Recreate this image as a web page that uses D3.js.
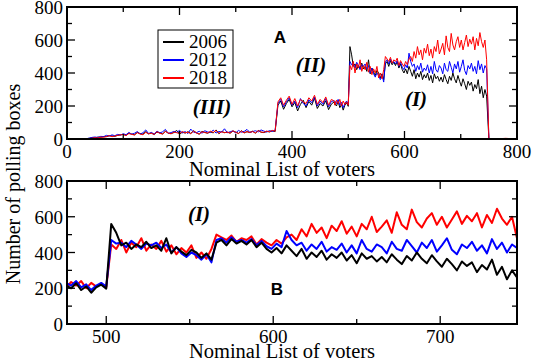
<!DOCTYPE html>
<html>
<head>
<meta charset="utf-8">
<script src="https://cdn.jsdelivr.net/npm/d3@7"></script>
<style>
body { margin: 0; background: #fff; }
</style>
</head>
<body>
<svg id="chart" width="533" height="362" font-family="'Liberation Serif', 'Times New Roman', serif"></svg>
<script>
// series names and colours
var years = ["2006", "2012", "2018"];
var colors = ["#000000", "#0000ff", "#ff0000"];

// region (III): voters 0..370, every 5
var low2006 = [0,1,0,2,1,0,3,2,4,8,
  6,12,10,15,14,20,18,16,22,25,
  28,22,35,30,26,40,33,29,45,31,
  36,27,42,38,30,48,35,33,39,52,
  30,41,36,44,34,50,38,29,46,40,
  35,43,37,55,32,45,39,41,36,48,
  42,34,50,38,44,40,47,35,52,41,
  39,46,43,49,45];
var low2012 = [0,0,1,0,2,1,0,2,6,10,
  12,9,16,14,22,18,25,20,28,24,
  32,26,40,29,35,45,30,38,55,33,
  40,30,48,36,44,58,34,39,46,40,
  52,37,45,33,60,41,38,47,35,50,
  43,39,54,36,46,42,62,38,44,49,
  37,52,41,46,58,40,45,50,43,55,
  48,42,51,46,53];
var low2018 = [0,1,0,0,1,2,0,1,3,5,
  8,6,12,10,15,20,14,18,22,25,
  27,21,33,28,24,38,30,26,40,32,
  35,28,44,34,30,46,36,31,42,38,
  33,45,37,42,32,48,36,30,44,39,
  36,47,40,52,34,44,38,42,35,50,
  40,33,48,37,45,39,46,36,51,42,
  40,48,44,52,47];

// region (II): voters 375..475, every 5
var mid2006 = [205,230,180,215,240,195,222,170,210,235,190,228,205,248,185,215,200,232,178,212,225];
var mid2012 = [215,240,195,225,250,205,230,190,245,215,200,238,220,255,200,230,210,245,195,228,232];
var mid2018 = [225,250,205,235,260,210,245,200,240,225,215,250,230,265,210,240,220,255,205,240,230];

// region (I): voters 476..746, every 3
var high2006 = [215,200,228,190,210,175,205,220,198,
  560,510,440,455,420,445,430,460,425,
  440,410,480,395,430,405,385,415,400,
  370,395,360,455,470,440,475,450,465,
  445,470,430,455,420,400,425,395,440,
  410,380,420,365,400,375,410,360,390,
  370,400,355,385,340,395,365,380,350,
  375,345,390,360,335,380,355,400,365,
  340,385,350,320,365,335,300,350,325,
  345,290,330,305,360,275,320,250,300,
  260];
var high2012 = [230,215,240,205,222,190,215,230,210,
  470,450,455,430,465,445,420,450,440,
  455,425,445,400,430,395,375,400,385,
  360,390,345,470,480,455,485,460,470,
  455,475,440,465,435,420,450,430,520,
  470,440,455,410,445,420,460,405,430,
  415,450,400,440,395,470,420,405,445,
  430,395,460,420,410,470,435,400,455,
  425,470,405,440,480,415,390,445,425,
  460,410,440,395,475,420,455,400,445,
  425];
var high2018 = [205,235,215,240,200,230,210,225,205,
  445,420,470,400,455,430,480,410,445,
  420,465,405,440,390,425,400,440,370,
  400,365,420,500,485,470,495,460,480,
  470,490,445,475,455,440,470,450,485,
  500,470,530,490,560,510,540,480,550,
  520,575,505,545,490,560,530,600,515,
  545,580,510,625,555,530,640,570,540,
  590,620,555,600,540,585,630,560,605,
  575,620,540,610,565,645,590,555,600,
  480];

// after the last box: voters 750..798
var tailIdx = [750, 760, 770, 780, 790, 798];
var tail2006 = [0,0,1,0,0,0];
var tail2012 = [2,1,3,2,1,2];
var tail2018 = [0,3,2,4,2,3];

var xTicksA = [0, 200, 400, 600, 800];
var xTicksB = [500, 600, 700];
var yTicks = [0, 200, 400, 600, 800];

function build(low, mid, high, tail) {
    var pts = [];
    low.forEach(function(v, i) { pts.push([i * 5, v]); });
    mid.forEach(function(v, i) { pts.push([375 + i * 5, v]); });
    high.forEach(function(v, i) { pts.push([476 + i * 3, v]); });
    tail.forEach(function(v, i) { pts.push([tailIdx[i], v]); });
    return pts;
}

var series = [
    build(low2006, mid2006, high2006, tail2006),
    build(low2012, mid2012, high2012, tail2012),
    build(low2018, mid2018, high2018, tail2018)
];

var svg = d3.select("#chart");
var left = 67, right = 517;

function panel(top, bottom, xDomain, majors, minorStep, order, lw, clipId, titleY) {
    var x = d3.scaleLinear().domain(xDomain).range([left, right]);
    var y = d3.scaleLinear().domain([0, 800]).range([bottom, top]);
    var g = svg.append("g");

    g.append("clipPath").attr("id", clipId)
        .append("rect").attr("x", left).attr("y", top)
        .attr("width", right - left).attr("height", bottom - top);

    var line = d3.line().x(function(d) { return x(d[0]); }).y(function(d) { return y(d[1]); });
    var lines = g.append("g").attr("clip-path", "url(#" + clipId + ")");
    order.forEach(function(k) {
        lines.append("path").datum(series[k])
            .attr("d", line).attr("fill", "none")
            .attr("stroke", colors[k]).attr("stroke-width", lw)
            .attr("stroke-linejoin", "round");
    });

    // ticks, all inward, on four sides
    var xMinor = d3.range(Math.ceil(xDomain[0] / minorStep) * minorStep, xDomain[1] + 1, minorStep);
    var yMinor = d3.range(0, 801, 100);
    var tk = g.append("g").attr("stroke", "#000").attr("stroke-width", 1.3);
    xMinor.forEach(function(v) {
        var len = majors.indexOf(v) >= 0 ? 8 : 5;
        tk.append("line").attr("x1", x(v)).attr("x2", x(v)).attr("y1", bottom).attr("y2", bottom - len);
        tk.append("line").attr("x1", x(v)).attr("x2", x(v)).attr("y1", top).attr("y2", top + len);
    });
    yMinor.forEach(function(v) {
        var len = yTicks.indexOf(v) >= 0 ? 8 : 5;
        tk.append("line").attr("x1", left).attr("x2", left + len).attr("y1", y(v)).attr("y2", y(v));
        tk.append("line").attr("x1", right).attr("x2", right - len).attr("y1", y(v)).attr("y2", y(v));
    });

    g.append("rect").attr("x", left).attr("y", top)
        .attr("width", right - left).attr("height", bottom - top)
        .attr("fill", "none").attr("stroke", "#000").attr("stroke-width", 2);

    g.selectAll(".xl").data(majors).enter().append("text")
        .attr("x", function(d) { return x(d); }).attr("y", bottom + 19)
        .attr("text-anchor", "middle").attr("font-size", 19).text(function(d) { return d; });
    g.selectAll(".yl").data(yTicks).enter().append("text")
        .attr("x", left - 4).attr("y", function(d) { return y(d) + 7; })
        .attr("text-anchor", "end").attr("font-size", 19).text(function(d) { return d; });

    g.append("text").attr("x", 282).attr("y", titleY)
        .attr("text-anchor", "middle").attr("font-size", 20.5).text("Nominal List of voters");
    return g;
}

panel(7, 139, [0, 800], xTicksA, 100, [0, 1, 2], 1, "clipA", 176);
panel(181, 324, [476.5, 746], xTicksB, 50, [2, 1, 0], 2, "clipB", 358);

svg.append("text").attr("transform", "translate(20,184) rotate(-90)")
    .attr("text-anchor", "middle").attr("font-size", 20).text("Number of polling boxes");

// legend
var lg = svg.append("g");
lg.append("rect").attr("x", 158).attr("y", 30).attr("width", 75).attr("height", 58)
    .attr("fill", "#fff").attr("stroke", "#000").attr("stroke-width", 1);
years.forEach(function(yr, i) {
    var yy = 42 + i * 18;
    lg.append("line").attr("x1", 163).attr("x2", 184).attr("y1", yy).attr("y2", yy)
        .attr("stroke", colors[i]).attr("stroke-width", 2);
    lg.append("text").attr("x", 189).attr("y", yy + 6).attr("font-size", 19).text(yr);
});

// annotations
function label(t, xx, yy, sans) {
    svg.append("text").attr("x", xx).attr("y", yy).attr("text-anchor", "middle")
        .attr("font-size", sans ? 17 : 21)
        .attr("font-weight", "bold")
        .attr("font-style", sans ? "normal" : "italic")
        .attr("font-family", sans ? "'Liberation Sans', Arial, sans-serif" : null)
        .text(t);
}
label("A", 280, 43, true);
label("B", 277, 295, true);
label("(III)", 212, 114, false);
label("(II)", 311, 72, false);
label("(I)", 416, 106, false);
label("(I)", 199, 221, false);
</script>
</body>
</html>
